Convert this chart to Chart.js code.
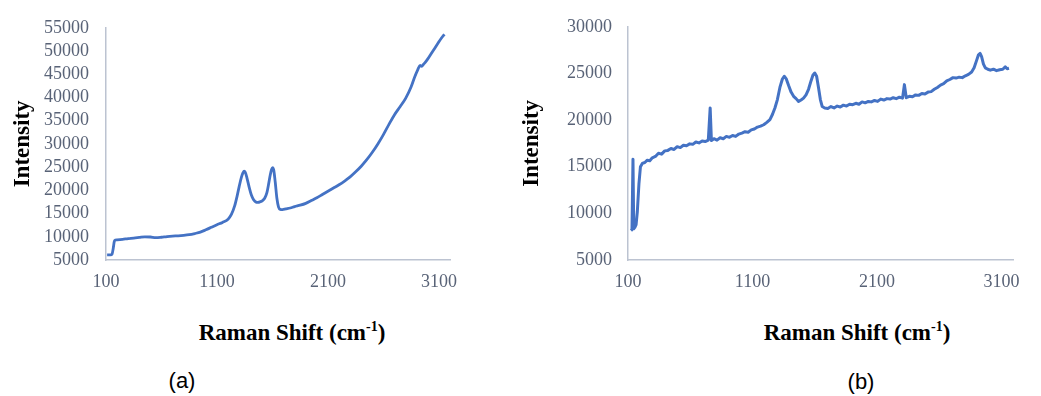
<!DOCTYPE html>
<html>
<head>
<meta charset="utf-8">
<script src="https://cdn.jsdelivr.net/npm/chart.js@4/dist/chart.umd.min.js"></script>
<style>
  html, body { margin: 0; padding: 0; background: #ffffff; }
  body { width: 1041px; height: 396px; position: relative; overflow: hidden; }
  canvas { position: absolute; top: 0; }
  #chartA { left: 0; }
  #chartB { left: 510px; }
  .xtitle {
    position: absolute; transform: translate(-50%, -50%);
    font: bold 23px "Liberation Serif", "Times New Roman", serif;
    color: #000; white-space: nowrap;
  }
  .xtitle sup { font-size: 14px; vertical-align: 9px; line-height: 0; }
  .caption {
    position: absolute; transform: translate(-50%, -50%);
    font: 22px "Liberation Sans", Arial, sans-serif; color: #000;
  }
</style>
</head>
<body>
<canvas id="chartA" width="470" height="300"></canvas>
<canvas id="chartB" width="521" height="300"></canvas>
<div class="xtitle" style="left:292px; top:333px;">Raman Shift (cm<sup>-1</sup>)</div>
<div class="xtitle" style="left:857px; top:333px;">Raman Shift (cm<sup>-1</sup>)</div>
<div class="caption" style="left:182px; top:381px;">(a)</div>
<div class="caption" style="left:861px; top:382px;">(b)</div>
<script>
// Raman shift axis ticks (cm-1) and intensity ticks for both panels
const shiftTicks = [100, 1100, 2100, 3100];
const intensityTicksA = [5000, 10000, 15000, 20000, 25000, 30000, 35000, 40000, 45000, 50000, 55000];
const intensityTicksB = [5000, 10000, 15000, 20000, 25000, 30000];

// Spectrum (a)
const shiftA = [110, 140, 155, 165, 175, 185, 200, 250, 300, 350, 400, 450, 500, 550, 600, 650, 700, 750, 800, 850,
  900, 950, 1000, 1050, 1100, 1150, 1200, 1230, 1260, 1280, 1300, 1320, 1335, 1345, 1355, 1370, 1390, 1410, 1430, 1450,
  1470, 1490, 1510, 1530, 1550, 1565, 1580, 1592, 1602, 1612, 1625, 1640, 1655, 1670, 1690, 1720, 1760, 1800, 1850, 1900,
  1950, 2000, 2050, 2100, 2150, 2200, 2250, 2300, 2350, 2400, 2450, 2500, 2550, 2600, 2650, 2700, 2750, 2800, 2850, 2880,
  2910, 2930, 2945, 2960, 2975, 3000, 3030, 3060, 3090, 3120, 3150];
const intensityA = [6100, 6100, 6300, 7500, 9000, 9300, 9350, 9450, 9600, 9700, 9850, 10000, 9950, 9800, 9900, 10050, 10150, 10200, 10300, 10450,
  10700, 11000, 11500, 12050, 12600, 13100, 13800, 14800, 16700, 18600, 20800, 22800, 23800, 24150, 23900, 22700, 20700, 19000, 18000, 17500,
  17400, 17550, 17800, 18300, 19500, 21300, 23300, 24500, 24900, 24300, 21800, 18300, 16400, 15900, 15850, 16000, 16200, 16500, 16800, 17200,
  17800, 18400, 19100, 19800, 20500, 21200, 22000, 22900, 24000, 25200, 26600, 28200, 30000, 32000, 34200, 36300, 38000, 39800, 42300, 44300,
  46000, 46900, 46700, 47100, 47500, 48300, 49400, 50500, 51600, 52700, 53600];

// Spectrum (b)
const shiftB = [124, 132, 140, 146, 155, 165, 175, 188, 200, 215, 235, 255, 275, 295, 320, 345, 370, 395, 420, 445,
  470, 495, 520, 545, 570, 595, 620, 645, 670, 695, 720, 745, 760, 770, 790, 815, 840, 865, 890, 915,
  940, 965, 990, 1015, 1040, 1065, 1090, 1115, 1140, 1165, 1190, 1215, 1240, 1260, 1280, 1300, 1320, 1340, 1355, 1370,
  1390, 1410, 1430, 1450, 1470, 1490, 1510, 1530, 1550, 1570, 1585, 1600, 1615, 1630, 1645, 1660, 1680, 1705, 1730, 1755,
  1780, 1805, 1830, 1855, 1880, 1905, 1930, 1955, 1980, 2005, 2030, 2055, 2080, 2105, 2130, 2155, 2180, 2205, 2230, 2255,
  2280, 2305, 2320, 2335, 2360, 2385, 2410, 2435, 2460, 2485, 2510, 2535, 2560, 2585, 2610, 2635, 2660, 2685, 2710, 2735,
  2760, 2785, 2810, 2835, 2860, 2880, 2900, 2915, 2928, 2940, 2955, 2970, 2990, 3010, 3035, 3060, 3085, 3110, 3130, 3145, 3160];
const intensityB = [8150, 8250, 15800, 8350, 8500, 8800, 10200, 13200, 15000, 15350, 15450, 15700, 15650, 15950, 16100, 16450, 16350, 16700, 16750, 16950,
  16850, 17150, 17050, 17300, 17250, 17450, 17400, 17650, 17550, 17750, 17700, 17850, 21300, 17800, 18000, 17850, 18100, 18000, 18250, 18150,
  18350, 18250, 18500, 18600, 18750, 18700, 18950, 19050, 19250, 19350, 19500, 19750, 20050, 20600, 21300, 22200, 23500, 24400, 24700, 24450,
  23700, 23000, 22550, 22300, 22000, 22150, 22350, 22700, 23300, 24200, 24800, 25050, 24700, 23500, 22200, 21450, 21300, 21250, 21450, 21300,
  21500, 21400, 21600, 21500, 21700, 21650, 21800, 21700, 21950, 21850, 22000, 21950, 22100, 22000, 22250, 22150, 22300, 22250, 22400, 22300,
  22450, 22350, 23800, 22400, 22550, 22500, 22700, 22650, 22850, 22800, 23000, 23050, 23300, 23500, 23750, 23900, 24200, 24350, 24550, 24500,
  24600, 24550, 24750, 24900, 25150, 25600, 26400, 27000, 27150, 26800, 26000, 25600, 25450, 25350, 25450, 25300, 25400, 25450, 25700, 25500, 25550];

const LINE = '#4472C4';
const AXIS = '#bcc3d1';
const TICK = '#596377';
const SERIF = '"Liberation Serif", "Times New Roman", serif';

function points(xs, ys) { return xs.map((x, i) => ({ x: x, y: ys[i] })); }
const plain = v => String(v);

function makeChart(id, xs, ys, yTicks, yMin, yMax, box) {
  return new Chart(document.getElementById(id), {
    type: 'line',
    data: {
      datasets: [{
        data: points(xs, ys),
        borderColor: LINE,
        borderWidth: box.lineWidth,
        borderJoinStyle: 'round',
        pointRadius: 0,
        fill: false,
        cubicInterpolationMode: box.smooth ? 'monotone' : 'default',
        tension: 0
      }]
    },
    options: {
      responsive: false,
      devicePixelRatio: 1,
      animation: false,
      events: [],
      layout: { padding: { left: 0, top: box.top, right: box.right, bottom: 0 } },
      plugins: { legend: { display: false }, tooltip: { enabled: false } },
      scales: {
        x: {
          type: 'linear', min: 100, max: 3200,
          grid: { display: false, drawTicks: false },
          border: { display: true, color: AXIS, width: 1.5 },
          afterBuildTicks: s => { s.ticks = shiftTicks.map(v => ({ value: v })); },
          afterFit: s => { s.height = 300 - 260; },
          ticks: { color: TICK, padding: 11, maxRotation: 0, autoSkip: false, callback: plain,
                   font: { family: SERIF, size: 18 } }
        },
        y: {
          type: 'linear', min: yMin, max: yMax,
          grid: { display: false, drawTicks: false },
          border: { display: true, color: AXIS, width: 1.5 },
          afterBuildTicks: s => { s.ticks = yTicks.map(v => ({ value: v })); },
          afterFit: s => { s.width = box.left; },
          ticks: { color: TICK, padding: box.tickPad, autoSkip: false, callback: plain,
                   font: { family: SERIF, size: 18 } },
          title: { display: true, text: 'Intensity', color: '#000000',
                   padding: { top: box.titlePad, bottom: 0 },
                   font: { family: SERIF, size: 23, weight: 'bold' } }
        }
      }
    }
  });
}

makeChart('chartA', shiftA, intensityA, intensityTicksA, 5000, 55000,
  { left: 106, top: 16.7, right: 20, tickPad: 17, titlePad: 9, lineWidth: 2.8, smooth: true });
makeChart('chartB', shiftB, intensityB, intensityTicksB, 5000, 30000,
  { left: 118, top: 20.7, right: 15, tickPad: 16, titlePad: 8, lineWidth: 3, smooth: false });
</script>
</body>
</html>
